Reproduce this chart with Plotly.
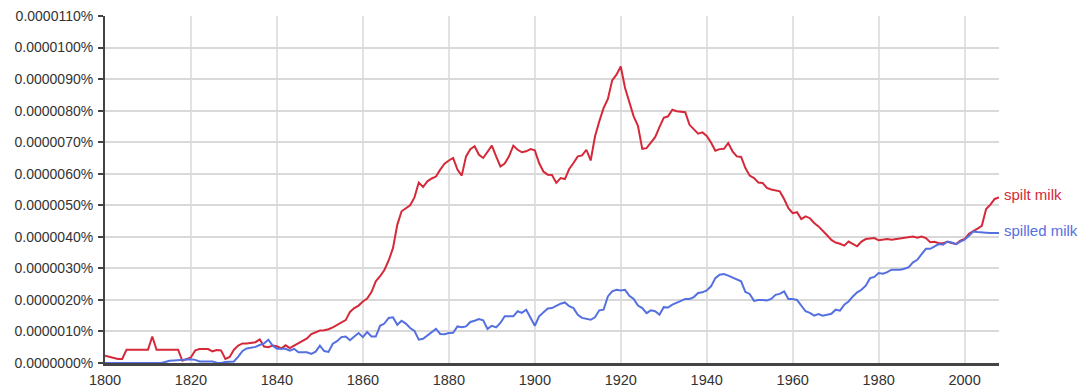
import plotly.graph_objects as go

# Years 1800..2008
years = list(range(1800, 2009))

# Stored numbers are multiples of 0.0000001 % (scaled below by 1e-6 to percent)
spilt_milk = [
    0.23, 0.19, 0.15, 0.13, 0.13, 0.42, 0.42, 0.42, 0.42, 0.42,  # 1800-1809
    0.42, 0.84, 0.42, 0.42, 0.42, 0.42, 0.42, 0.42, 0.07, 0.13,  # 1810-1819
    0.18, 0.40, 0.44, 0.44, 0.44, 0.37, 0.41, 0.40, 0.13, 0.19,  # 1820-1829
    0.42, 0.55, 0.62, 0.62, 0.65, 0.66, 0.75, 0.52, 0.50, 0.55,  # 1830-1839
    0.53, 0.46, 0.56, 0.47, 0.55, 0.62, 0.69, 0.78, 0.92, 0.98,  # 1840-1849
    1.03, 1.04, 1.07, 1.13, 1.20, 1.28, 1.36, 1.62, 1.74, 1.82,  # 1850-1859
    1.95, 2.04, 2.25, 2.59, 2.75, 2.95, 3.25, 3.64, 4.38, 4.81,  # 1860-1869
    4.90, 5.00, 5.25, 5.72, 5.58, 5.76, 5.85, 5.91, 6.13, 6.32,  # 1870-1879
    6.42, 6.50, 6.13, 5.94, 6.55, 6.78, 6.87, 6.60, 6.50, 6.71,  # 1880-1889
    6.89, 6.55, 6.23, 6.32, 6.55, 6.89, 6.76, 6.68, 6.71, 6.78,  # 1890-1899
    6.74, 6.34, 6.07, 5.97, 5.96, 5.71, 5.86, 5.83, 6.15, 6.34,  # 1900-1909
    6.55, 6.58, 6.76, 6.42, 7.18, 7.66, 8.08, 8.37, 8.96, 9.14,  # 1910-1919
    9.40, 8.72, 8.29, 7.82, 7.52, 6.79, 6.81, 6.97, 7.16, 7.48,  # 1920-1929
    7.77, 7.82, 8.03, 7.98, 7.97, 7.95, 7.55, 7.42, 7.27, 7.31,  # 1930-1939
    7.20, 6.99, 6.73, 6.78, 6.79, 6.97, 6.71, 6.55, 6.53, 6.18,  # 1940-1949
    5.94, 5.86, 5.72, 5.71, 5.55, 5.50, 5.46, 5.44, 5.20, 4.91,  # 1950-1959
    4.75, 4.78, 4.56, 4.65, 4.59, 4.44, 4.33, 4.20, 4.05, 3.90,  # 1960-1969
    3.82, 3.78, 3.72, 3.85, 3.78, 3.70, 3.85, 3.93, 3.95, 3.96,  # 1970-1979
    3.89, 3.91, 3.93, 3.91, 3.93, 3.96, 3.96, 3.99, 4.01, 3.97,  # 1980-1989
    4.01, 3.96, 3.83, 3.84, 3.80, 3.80, 3.84, 3.80, 3.77, 3.88,  # 1990-1999
    3.93, 4.10, 4.17, 4.26, 4.35, 4.88, 5.02, 5.20, 5.25,        # 2000-2008
]

spilled_milk = [
    0.00, 0.00, 0.00, 0.00, 0.00, 0.00, 0.00, 0.00, 0.00, 0.00,  # 1800-1809
    0.00, 0.00, 0.00, 0.00, 0.03, 0.07, 0.08, 0.09, 0.10, 0.10,  # 1810-1819
    0.12, 0.10, 0.05, 0.05, 0.05, 0.05, 0.01, 0.00, 0.03, 0.05,  # 1820-1829
    0.05, 0.20, 0.38, 0.46, 0.49, 0.51, 0.57, 0.62, 0.74, 0.55,  # 1830-1839
    0.45, 0.45, 0.45, 0.39, 0.45, 0.34, 0.34, 0.34, 0.29, 0.36,  # 1840-1849
    0.55, 0.38, 0.35, 0.61, 0.69, 0.82, 0.84, 0.72, 0.84, 0.95,  # 1850-1859
    0.82, 0.98, 0.84, 0.84, 1.18, 1.25, 1.43, 1.45, 1.21, 1.34,  # 1860-1869
    1.25, 1.11, 1.02, 0.74, 0.77, 0.87, 0.98, 1.08, 0.92, 0.91,  # 1870-1879
    0.95, 0.96, 1.16, 1.13, 1.16, 1.30, 1.34, 1.39, 1.35, 1.08,  # 1880-1889
    1.18, 1.13, 1.27, 1.48, 1.48, 1.48, 1.64, 1.59, 1.69, 1.43,  # 1890-1899
    1.18, 1.48, 1.61, 1.73, 1.74, 1.82, 1.88, 1.92, 1.80, 1.74,  # 1900-1909
    1.53, 1.43, 1.39, 1.37, 1.45, 1.67, 1.69, 2.11, 2.27, 2.32,  # 1910-1919
    2.30, 2.32, 2.13, 2.03, 1.82, 1.74, 1.58, 1.67, 1.64, 1.53,  # 1920-1929
    1.77, 1.76, 1.85, 1.92, 1.97, 2.03, 2.03, 2.09, 2.22, 2.24,  # 1930-1939
    2.30, 2.43, 2.69, 2.80, 2.82, 2.77, 2.71, 2.66, 2.59, 2.25,  # 1940-1949
    2.19, 1.97, 2.00, 2.00, 1.98, 2.03, 2.16, 2.19, 2.27, 2.03,  # 1950-1959
    2.03, 2.00, 1.82, 1.64, 1.59, 1.50, 1.55, 1.50, 1.53, 1.56,  # 1960-1969
    1.69, 1.66, 1.85, 1.95, 2.11, 2.24, 2.32, 2.45, 2.69, 2.73,  # 1970-1979
    2.85, 2.83, 2.88, 2.96, 2.96, 2.96, 2.99, 3.04, 3.19, 3.27,  # 1980-1989
    3.45, 3.62, 3.62, 3.70, 3.77, 3.75, 3.85, 3.82, 3.77, 3.85,  # 1990-1999
    3.91, 4.03, 4.17, 4.15, 4.13, 4.13, 4.12, 4.12, 4.12,        # 2000-2008
]

series_names = ["spilt milk", "spilled milk"]
series_colors = ["#d5293a", "#5470e0"]

SCALE = 1e-6  # stored numbers are multiples of 0.000001 %
y_tick_units = list(range(0, 12))
y_ticks = [u * SCALE for u in y_tick_units]
y_tick_text = ["%.7f%%" % v for v in y_ticks]
x_ticks = list(range(1800, 2001, 20))

fig = go.Figure()
for name, vals, col in zip(series_names, [spilt_milk, spilled_milk], series_colors):
    fig.add_trace(go.Scatter(
        x=years, y=[v * SCALE for v in vals], mode="lines", name=name,
        line=dict(color=col, width=2), hoverinfo="skip",
    ))
    fig.add_annotation(
        x=years[-1], y=vals[-1] * SCALE, xref="x", yref="y",
        text=name, showarrow=False, xanchor="left", yanchor="middle",
        xshift=3, yshift=3, font=dict(color=col, size=15),
    )

fig.update_layout(
    width=1092, height=392,
    margin=dict(l=105, r=93, t=16, b=29, autoexpand=False),
    paper_bgcolor="white", plot_bgcolor="white",
    showlegend=False,
    font=dict(family="Arial, Liberation Sans, sans-serif", color="#333333", size=13),
)
fig.update_xaxes(
    range=[1800, 2008], tickmode="array", tickvals=x_ticks, ticks="", showgrid=True,
    gridcolor="#e2e2e2", gridwidth=2, zeroline=False, automargin=False,
    showline=True, linecolor="#444444", linewidth=3,
    ticklabelstandoff=2, tickfont=dict(size=14.5),
)
fig.update_yaxes(
    range=[0, 11 * SCALE], tickmode="array", tickvals=y_ticks, ticktext=y_tick_text,
    ticks="outside", ticklen=5, tickwidth=2, tickcolor="#444444",
    showgrid=True, gridcolor="#d9d9d9", gridwidth=1.5, zeroline=False, automargin=False,
    showline=True, linecolor="#444444", linewidth=2,
    ticklabelstandoff=2, tickfont=dict(size=14),
)

fig.write_html("out.html")
